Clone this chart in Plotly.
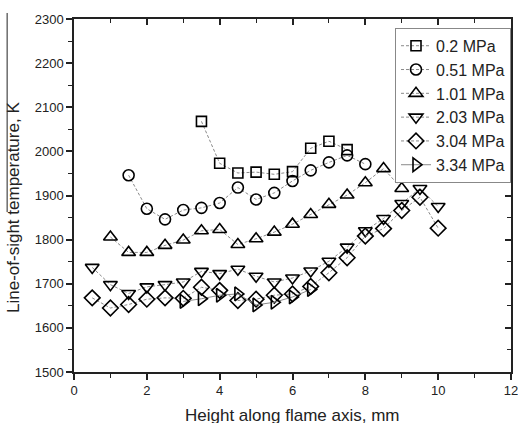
import plotly.graph_objects as go

# ---- data ----
x_02 = [3.5, 4, 4.5, 5, 5.5, 6, 6.5, 7, 7.5]
y_02 = [2068, 1973, 1951, 1953, 1948, 1954, 2007, 2023, 2004]

x_051 = [1.5, 2, 2.5, 3, 3.5, 4, 4.5, 5, 5.5, 6, 6.5, 7, 7.5, 8]
y_051 = [1946, 1870, 1846, 1867, 1872, 1883, 1918, 1891, 1906, 1933, 1957, 1975, 1991, 1971]

x_101 = [1, 1.5, 2, 2.5, 3, 3.5, 4, 4.5, 5, 5.5, 6, 6.5, 7, 7.5, 8, 8.5, 9]
y_101 = [1806, 1771, 1771, 1787, 1799, 1820, 1823, 1789, 1802, 1817, 1835, 1857, 1880, 1901, 1929, 1961, 1916]

x_203 = [0.5, 1, 1.5, 2, 2.5, 3, 3.5, 4, 4.5, 5, 5.5, 6, 6.5, 7, 7.5, 8, 8.5, 9, 9.5, 10]
y_203 = [1737, 1698, 1678, 1693, 1698, 1704, 1728, 1723, 1733, 1717, 1704, 1713, 1729, 1751, 1783, 1820, 1848, 1882, 1916, 1875]

x_304 = [0.5, 1, 1.5, 2, 2.5, 3, 3.5, 4, 4.5, 5, 5.5, 6, 6.5, 7, 7.5, 8, 8.5, 9, 9.5, 10]
y_304 = [1668, 1645, 1653, 1665, 1668, 1667, 1692, 1685, 1662, 1665, 1674, 1677, 1694, 1725, 1759, 1808, 1825, 1866, 1896, 1826]

x_334 = [3, 3.5, 4, 4.5, 5, 5.5, 6, 6.5]
y_334 = [1660, 1666, 1674, 1677, 1652, 1658, 1670, 1687]

series = [
    ("0.2 MPa", x_02, y_02, "square-open", 10, "3px,2px"),
    ("0.51 MPa", x_051, y_051, "circle-open", 11, "3px,2px"),
    ("1.01 MPa", x_101, y_101, "triangle-up-open", 12, "3px,2px"),
    ("2.03 MPa", x_203, y_203, "triangle-down-open", 12, "3px,2px"),
    ("3.04 MPa", x_304, y_304, "diamond-open", 12, "3px,2px"),
    ("3.34 MPa", x_334, y_334, "triangle-right-open", 12, "solid"),
]

x_range = [0, 12]
y_range = [1500, 2300]

fig = go.Figure()
for name, xs, ys, sym, sz, dash in series:
    fig.add_trace(go.Scatter(
        x=xs, y=ys, name=name, mode="lines+markers",
        line=dict(color="#8a8a8a", width=1, dash=dash),
        marker=dict(symbol=sym, size=sz, color="black", line=dict(width=1.6, color="black")),
    ))

# invisible trace for the mirror axes (inward ticks on top/right)
fig.add_trace(go.Scatter(x=x_range, y=y_range, xaxis="x2", yaxis="y2",
                         mode="markers", marker=dict(opacity=0), showlegend=False,
                         hoverinfo="skip"))

tickfont = dict(family="Liberation Sans, Arial, sans-serif", size=13, color="#222")
common = dict(showgrid=False, zeroline=False, automargin=False, showline=True,
              linecolor="#222", linewidth=1.5, tickcolor="#222", tickwidth=1.5, ticklen=6)
fig.update_layout(
    width=518, height=423,
    margin=dict(l=74, r=7, t=19, b=51),
    paper_bgcolor="white", plot_bgcolor="white",
    font=dict(family="Liberation Sans, Arial, sans-serif", color="#222"),
    showlegend=True,
    legend=dict(x=1.0, y=0.975, xanchor="right", yanchor="top",
                bordercolor="#888", borderwidth=1, bgcolor="white",
                font=dict(size=16, color="#222"), tracegroupgap=0),
    xaxis=dict(range=x_range, dtick=2, tick0=0, ticks="outside", tickfont=tickfont,
               ticklabeloverflow="allow",
               minor=dict(dtick=1, ticks="outside", ticklen=4, tickwidth=1.2, tickcolor="#222"),
               **common),
    yaxis=dict(range=y_range, dtick=100, ticks="outside", tickfont=tickfont,
               ticklabeloverflow="allow",
               minor=dict(dtick=50, ticks="outside", ticklen=4, tickwidth=1.2, tickcolor="#222"),
               **common),
    xaxis2=dict(range=x_range, overlaying="x", side="top", anchor="y2", dtick=2, tick0=0,
                ticks="inside", showticklabels=False,
                minor=dict(dtick=1, ticks="inside", ticklen=4, tickwidth=1.2, tickcolor="#222"),
                **common),
    yaxis2=dict(range=y_range, overlaying="y", side="right", anchor="x2", dtick=100,
                ticks="inside", showticklabels=False,
                minor=dict(dtick=50, ticks="inside", ticklen=4, tickwidth=1.2, tickcolor="#222"),
                **common),
    annotations=[
        dict(text="Height along flame axis, mm", xref="paper", yref="paper",
             x=0.499, y=-0.124, xanchor="center", yanchor="middle", showarrow=False,
             font=dict(size=17, color="#222")),
        dict(text="Line-of-sight temperature, K", xref="paper", yref="paper",
             x=-0.137, y=0.465, xanchor="center", yanchor="middle", showarrow=False,
             textangle=-90, font=dict(size=17, color="#222")),
    ],
    shapes=[
        dict(type="line", xref="paper", yref="paper", x0=-0.153, x1=-0.153,
             y0=1.017, y1=0.453, line=dict(color="#222", width=1)),
    ],
)

fig.write_html("out.html", config={"displayModeBar": False},
               post_script="document.body.style.margin='0';")
